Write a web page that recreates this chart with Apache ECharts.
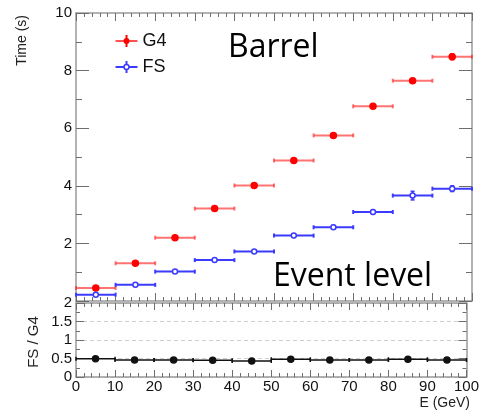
<!DOCTYPE html>
<html>
<head>
<meta charset="utf-8">
<script src="https://cdn.jsdelivr.net/npm/echarts@6/dist/echarts.min.js"></script>
<style>
  html, body { margin: 0; padding: 0; background: #fff; }
  #chart { width: 482px; height: 412px; }
</style>
</head>
<body>
<div id="chart"></div>
<script>
// bin centres in GeV, each bin is 10 GeV wide
const energy = [5, 15, 25, 35, 45, 55, 65, 75, 85, 95]
const binHalf = 5
const g4Time = [0.45, 1.31, 2.2, 3.21, 4.01, 4.88, 5.75, 6.76, 7.65, 8.48]
const g4Err = [0.03, 0.03, 0.04, 0.04, 0.05, 0.05, 0.05, 0.06, 0.07, 0.1]
const fsTime = [0.22, 0.56, 1.02, 1.42, 1.72, 2.27, 2.56, 3.09, 3.66, 3.9]
const fsErr = [0.02, 0.03, 0.04, 0.04, 0.05, 0.06, 0.06, 0.08, 0.15, 0.1]
const ratio = [0.49, 0.46, 0.46, 0.45, 0.43, 0.48, 0.46, 0.46, 0.48, 0.46]
const ratioErr = [0.01, 0.01, 0.01, 0.01, 0.01, 0.01, 0.01, 0.01, 0.01, 0.01]
const timeTicks = [2, 4, 6, 8, 10]
const ratioTicks = ['0', '0.5', '1', '1.5', '2']

const font = 'Liberation Sans, Arial, sans-serif'
const frameColor = '#9a9a9a'
const tickColor = '#6e6e6e'

const chart = echarts.init(document.getElementById('chart'))

// horizontal bar over the bin + vertical error + marker, ROOT style
function errorBar(lineColor, markColor, filled, r, lw) {
  return function (params, api) {
    const x = api.value(0), y = api.value(1), e = api.value(2)
    const c = api.coord([x, y])
    const l = api.coord([x - binHalf, y])
    const rt = api.coord([x + binHalf, y])
    const top = api.coord([x, y + e])
    const bot = api.coord([x, y - e])
    const ls = { stroke: lineColor, lineWidth: lw }
    return {
      type: 'group',
      children: [
        { type: 'line', shape: { x1: l[0], y1: l[1], x2: rt[0], y2: rt[1] }, style: ls },
        { type: 'line', shape: { x1: l[0], y1: l[1] - 2, x2: l[0], y2: l[1] + 2 }, style: ls },
        { type: 'line', shape: { x1: rt[0], y1: rt[1] - 2, x2: rt[0], y2: rt[1] + 2 }, style: ls },
        { type: 'line', shape: { x1: top[0], y1: top[1], x2: bot[0], y2: bot[1] }, style: { stroke: markColor, lineWidth: 2 } },
        { type: 'line', shape: { x1: top[0] - 2, y1: top[1], x2: top[0] + 2, y2: top[1] }, style: { stroke: markColor, lineWidth: 1.5 } },
        { type: 'line', shape: { x1: bot[0] - 2, y1: bot[1], x2: bot[0] + 2, y2: bot[1] }, style: { stroke: markColor, lineWidth: 1.5 } },
        { type: 'circle', shape: { cx: c[0], cy: c[1], r: r },
          style: { fill: filled ? markColor : '#fff', stroke: markColor, lineWidth: 1.5 } }
      ]
    }
  }
}

function xAx(grid, pos, labels) {
  return {
    type: 'value', gridIndex: grid, position: pos, min: 0, max: 100, interval: 10,
    axisLine: { show: true, onZero: false, lineStyle: { color: frameColor, width: 1.5 } },
    axisTick: { show: true, inside: true, length: grid === 0 ? 8 : 7, lineStyle: { color: tickColor } },
    minorTick: { show: true, splitNumber: 5, length: 4, lineStyle: { color: tickColor } },
    axisLabel: { show: labels, color: '#111', fontSize: 15, fontFamily: font, margin: 2,
      formatter: v => String(v) },
    splitLine: { show: false }
  }
}

function yAx(grid, pos, labels, max, interval, fmt, split) {
  return {
    type: 'value', gridIndex: grid, position: pos, min: 0, max: max, interval: interval,
    axisLine: { show: true, onZero: false, lineStyle: { color: frameColor, width: 1.5 } },
    axisTick: { show: true, inside: true, length: grid === 0 ? 13 : 8, lineStyle: { color: tickColor } },
    minorTick: { show: true, splitNumber: 2, length: grid === 0 ? 6 : 4, lineStyle: { color: tickColor } },
    axisLabel: { show: labels, color: '#111', fontSize: 15, fontFamily: font, margin: 4, formatter: fmt },
    splitLine: { show: split, lineStyle: { color: '#cfcfcf', type: [4, 3], width: 1.2 } }
  }
}

const option = {
  animation: false,
  grid: [
    { left: 76, top: 13, width: 396, height: 288 },
    { left: 76, top: 303, width: 396, height: 74 }
  ],
  xAxis: [
    xAx(0, 'bottom', false),
    xAx(0, 'top', false),
    xAx(1, 'bottom', true),
    xAx(1, 'top', false)
  ],
  yAxis: [
    yAx(0, 'left', true, 10, 2, v => (timeTicks.indexOf(v) >= 0 ? String(v) : ''), false),
    yAx(0, 'right', false, 10, 2, null, false),
    yAx(1, 'left', true, 2, 0.5, v => ratioTicks[Math.round(v * 2)], true),
    yAx(1, 'right', false, 2, 0.5, null, false)
  ],
  series: [
    {
      name: 'G4', type: 'custom', xAxisIndex: 0, yAxisIndex: 0,
      renderItem: errorBar('rgba(255,40,40,0.65)', '#ff0000', true, 3, 2),
      data: energy.map((e, i) => [e, g4Time[i], g4Err[i]]), z: 3
    },
    {
      name: 'FS', type: 'custom', xAxisIndex: 0, yAxisIndex: 0,
      renderItem: errorBar('#3b3bff', '#3b3bff', false, 2.5, 2),
      data: energy.map((e, i) => [e, fsTime[i], fsErr[i]]), z: 4
    },
    {
      name: 'FS / G4', type: 'custom', xAxisIndex: 2, yAxisIndex: 2,
      renderItem: errorBar('#111', '#111', true, 3, 1.5),
      data: energy.map((e, i) => [e, ratio[i], ratioErr[i]]), z: 4
    }
  ],
  graphic: [
    // legend
    { type: 'group', left: 113, top: 32, children: [
      { type: 'line', shape: { x1: 0, y1: 8, x2: 22, y2: 8 }, style: { stroke: 'rgba(255,40,40,0.8)', lineWidth: 2 } },
      { type: 'line', shape: { x1: 11, y1: 2, x2: 11, y2: 14 }, style: { stroke: '#ff0000', lineWidth: 2 } },
      { type: 'circle', shape: { cx: 11, cy: 8, r: 3 }, style: { fill: '#ff0000' } },
      { type: 'text', x: 27, y: 8, style: { text: 'G4', font: '18px ' + font, fill: '#111', textVerticalAlign: 'middle' } }
    ] },
    { type: 'group', left: 113, top: 58, children: [
      { type: 'line', shape: { x1: 0, y1: 8, x2: 22, y2: 8 }, style: { stroke: '#3b3bff', lineWidth: 2 } },
      { type: 'line', shape: { x1: 11, y1: 2, x2: 11, y2: 14 }, style: { stroke: '#3b3bff', lineWidth: 2 } },
      { type: 'circle', shape: { cx: 11, cy: 8, r: 2.5 }, style: { fill: '#fff', stroke: '#3b3bff', lineWidth: 1.5 } },
      { type: 'text', x: 27, y: 8, style: { text: 'FS', font: '18px ' + font, fill: '#111', textVerticalAlign: 'middle' } }
    ] },
    { type: 'text', x: 228, y: 48, style: { text: 'Barrel', font: '32px "Open Sans", sans-serif', fill: '#000', textVerticalAlign: 'middle' } },
    { type: 'text', x: 273, y: 277, style: { text: 'Event level', font: '32px "Open Sans", sans-serif', fill: '#000', textVerticalAlign: 'middle' } },
    { type: 'text', x: 22, y: 15, rotation: Math.PI / 2, style: { text: 'Time (s)', font: '14px ' + font, fill: '#222', textAlign: 'right', textVerticalAlign: 'middle' } },
    { type: 'text', x: 34, y: 342, rotation: Math.PI / 2, style: { text: 'FS / G4', font: '15px ' + font, fill: '#222', textAlign: 'center', textVerticalAlign: 'middle' } },
    { type: 'text', x: 470, y: 403, style: { text: 'E (GeV)', font: '14px ' + font, fill: '#222', textAlign: 'right', textVerticalAlign: 'middle' } }
  ]
}

chart.setOption(option)
</script>
</body>
</html>
